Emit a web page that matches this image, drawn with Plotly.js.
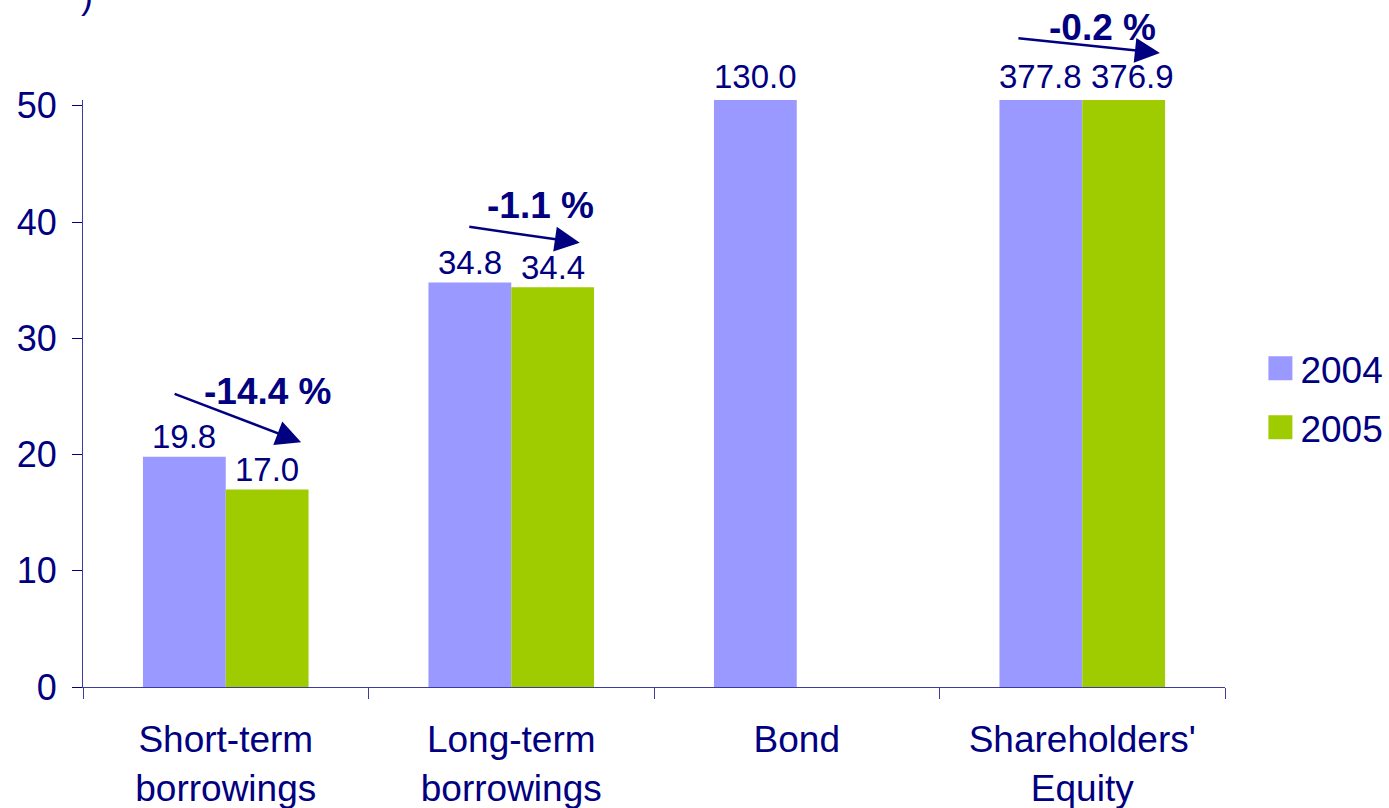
<!DOCTYPE html>
<html>
<head>
<meta charset="utf-8">
<script src="https://cdn.plot.ly/plotly-3.0.1.min.js"></script>
<style>
  html, body { margin: 0; padding: 0; background: #fff; }
  #chart { width: 1389px; height: 808px; }
</style>
</head>
<body>
<div id="chart"></div>
<script>
// ---- data ----
var categories = ["Short-term<br>borrowings", "Long-term<br>borrowings", "Bond", "Shareholders'<br>Equity"];
var seriesNames = ["2004", "2005"];
var values2004 = [19.8, 34.8, 130.0, 377.8];
var values2005 = [17.0, 34.4, null, 376.9];
var changeLabels = ["-14.4 %", "-1.1 %", null, "-0.2 %"];
var yTicks = [0, 10, 20, 30, 40, 50];

// ---- styling ----
var NAVY = '#000080';
var AXIS = '#3c3c9c';
var FONT = 'Liberation Sans, Arial, sans-serif';
var Y_MAX = 50.5;
var colors = ['#9999FF', '#9ECC00'];
var BAR_OFF = 0.145;
var labelXShift = [[0, 0, 0, 0], [0, 0, 0, 9]];

var traces = [values2004, values2005].map(function (vals, i) {
  return {
    type: 'bar',
    name: seriesNames[i],
    x: categories,
    y: vals,
    marker: { color: colors[i], line: { width: 0 } },
    legendgroup: 'g' + i,
    hoverinfo: 'x+y+name'
  };
});

var annotations = [];
// value labels above bars
[values2004, values2005].forEach(function (vals, i) {
  vals.forEach(function (v, j) {
    if (v === null) return;
    annotations.push({
      xref: 'x', yref: 'y',
      x: j + (i === 0 ? -BAR_OFF : BAR_OFF),
      y: Math.min(v, Y_MAX),
      text: v.toFixed(1),
      showarrow: false,
      yanchor: 'middle',
      yshift: v > Y_MAX ? 24 : 20,
      xshift: labelXShift[i][j],
      font: { family: FONT, size: 33, color: NAVY }
    });
  });
});

// change arrows and percentage labels (paper coordinates)
var arrowHeads = [[0.191, 0.417, -128, -49], [0.435, 0.757, -112, -16], null, [0.943, 1.080, -143, -15]];
var pctPos = [[0.162, 0.504], [0.401, 0.821], null, [0.893, 1.124]];
changeLabels.forEach(function (t, j) {
  if (!t) return;
  var h = arrowHeads[j];
  annotations.push({
    xref: 'paper', yref: 'paper', x: h[0], y: h[1],
    ax: h[2], ay: h[3], text: '',
    showarrow: true, arrowhead: 2, arrowsize: 2, arrowwidth: 2.5,
    arrowcolor: NAVY
  });
  annotations.push({
    xref: 'paper', yref: 'paper', x: pctPos[j][0], y: pctPos[j][1],
    text: '<b>' + t + '</b>', showarrow: false,
    xanchor: 'center', yanchor: 'middle',
    font: { family: FONT, size: 37, color: NAVY }
  });
});

// unit caption, cut off at top of the page
annotations.push({
  xref: 'paper', yref: 'paper', x: 0.0105, y: 1.14,
  xanchor: 'right', yanchor: 'bottom',
  text: ')', showarrow: false,
  font: { family: FONT, size: 36, color: NAVY }
});

var layout = {
  width: 1389, height: 808,
  margin: { l: 83, r: 164, t: 100, b: 121, autoexpand: false },
  paper_bgcolor: '#fff', plot_bgcolor: '#fff',
  barmode: 'group',
  bargap: 0.42,
  bargroupgap: 0,
  font: { family: FONT, color: NAVY, size: 32 },
  xaxis: {
    type: 'category',
    range: [-0.5, 3.5],
    showline: true, linecolor: AXIS, linewidth: 1,
    ticks: 'outside', tickson: 'boundaries', ticklen: 11, tickcolor: AXIS, tickwidth: 1,
    tickfont: { family: FONT, size: 37, color: NAVY },
    ticklabelstandoff: 20,
    showgrid: false, zeroline: false, fixedrange: true
  },
  yaxis: {
    range: [0, Y_MAX],
    tickvals: yTicks,
    ticktext: yTicks.map(String),
    showline: true, linecolor: AXIS, linewidth: 1,
    ticks: 'outside', ticklen: 10, tickcolor: NAVY, tickwidth: 1,
    tickfont: { family: FONT, size: 36, color: NAVY },
    ticklabelstandoff: 8,
    showgrid: false, zeroline: false, fixedrange: true
  },
  showlegend: true,
  legend: {
    x: 1.031, xanchor: 'left', y: 0.492, yanchor: 'middle',
    font: { family: FONT, size: 37, color: NAVY },
    traceorder: 'grouped', tracegroupgap: 8,
    bgcolor: 'rgba(0,0,0,0)', borderwidth: 0
  },
  annotations: annotations
};

Plotly.newPlot('chart', traces, layout, { staticPlot: true, displayModeBar: false }).then(function () {
  // enlarge the legend colour squares to match the reference
  document.querySelectorAll('#chart .legend .legendpoints path').forEach(function (p) {
    p.setAttribute('d', 'M12,12H-12V-12H12Z');
  });
});
</script>
</body>
</html>
